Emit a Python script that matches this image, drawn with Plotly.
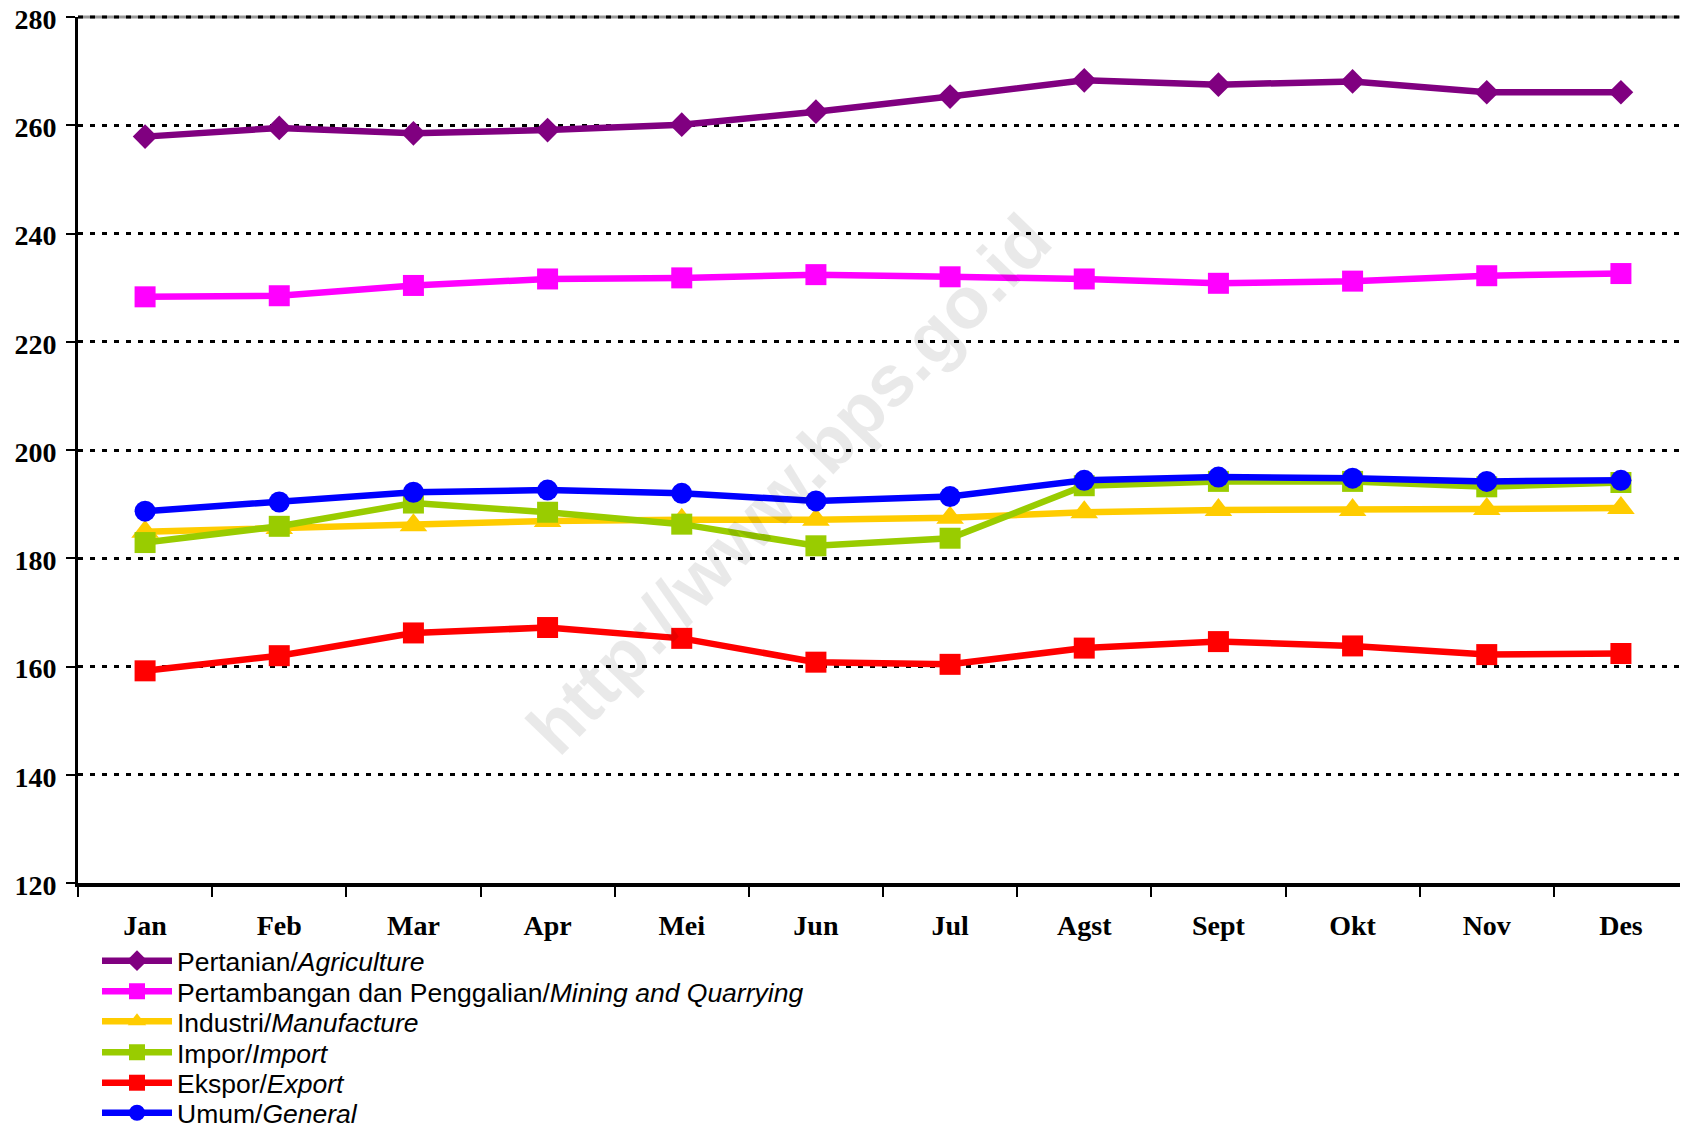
import plotly.graph_objects as go

months = ["Jan", "Feb", "Mar", "Apr", "Mei", "Jun", "Jul", "Agst", "Sept", "Okt", "Nov", "Des"]

agriculture = [257.9, 259.5, 258.5, 259.1, 260.1, 262.5, 265.3, 268.3, 267.5, 268.1, 266.1, 266.1]
mining = [228.3, 228.5, 230.4, 231.6, 231.8, 232.4, 232.0, 231.6, 230.8, 231.2, 232.2, 232.6]
industry = [184.9, 185.6, 186.1, 186.9, 187.1, 187.1, 187.5, 188.5, 188.9, 188.9, 189.1, 189.3]
imports = [182.9, 185.9, 190.2, 188.5, 186.3, 182.3, 183.7, 193.4, 194.2, 194.2, 193.2, 194.0]
exports = [159.2, 162.0, 166.2, 167.2, 165.2, 160.8, 160.4, 163.4, 164.6, 163.8, 162.2, 162.4]
general = [188.7, 190.4, 192.2, 192.6, 192.0, 190.6, 191.4, 194.4, 195.0, 194.8, 194.2, 194.4]

series_names = [
    "Pertanian/<i>Agriculture</i>",
    "Pertambangan dan Penggalian/<i>Mining and Quarrying</i>",
    "Industri/<i>Manufacture</i>",
    "Impor/<i>Import</i>",
    "Ekspor/<i>Export</i>",
    "Umum/<i>General</i>",
]
series_values = [agriculture, mining, industry, imports, exports, general]
colors = ["#800080", "#FF00FF", "#FFCC00", "#99CC00", "#FF0000", "#0000FF"]
symbols = ["diamond", "square", "triangle-up", "square", "square", "circle"]
sizes = [19, 21, 24, 21, 21, 21]

y_ticks = [120, 140, 160, 180, 200, 220, 240, 260, 280]

# page body has an 8px margin, so the figure is offset by 8px
OFF = 8
W, H = 1688 - OFF, 1126 - OFF
L, R, T, B = 78 - OFF, 0, 17 - OFF, 1126 - 883
PW, PH = W - L - R, H - T - B

fig = go.Figure()
legend_keys = ["legend", "legend2", "legend3", "legend4", "legend5", "legend6"]
for i, (name, vals, c, s, sz) in enumerate(zip(series_names, series_values, colors, symbols, sizes)):
    fig.add_trace(go.Scatter(
        x=months, y=vals, name=name, mode="lines+markers",
        line=dict(color=c, width=6.5),
        marker=dict(symbol=s, size=sz, color=c),
        legend=legend_keys[i],
    ))

legend_centers = [961, 991.5, 1021.5, 1052.5, 1083, 1113]
layout_legends = {}
for key, cy in zip(legend_keys, legend_centers):
    layout_legends[key] = dict(
        xref="container", yref="container",
        x=(97 - OFF) / W, y=1 - (cy - OFF) / H, xanchor="left", yanchor="middle",
        font=dict(family="Liberation Sans, Arial, sans-serif", size=26.5, color="black"),
        bgcolor="rgba(0,0,0,0)", borderwidth=0, itemwidth=70,
        itemsizing="trace",
    )

tick_font = dict(family="Liberation Serif, Times New Roman, serif", size=28, color="black", weight="bold")

wm_x, wm_y = 788 - OFF, 484 - OFF  # watermark centre in figure pixels

fig.update_layout(
    width=W, height=H,
    margin=dict(l=L, r=R, t=T, b=B, autoexpand=False),
    paper_bgcolor="white", plot_bgcolor="white",
    showlegend=True,
    xaxis=dict(
        type="category", range=[-0.5, 11.5], tickson="boundaries",
        ticks="outside", ticklen=10, tickwidth=2, tickcolor="black",
        showline=True, linecolor="black", linewidth=4,
        showgrid=False, tickfont=tick_font, ticklabelstandoff=14,
    ),
    yaxis=dict(
        range=[120, 280], tickvals=y_ticks, ticks="outside", ticklen=9,
        tickwidth=2, tickcolor="black",
        showline=True, linecolor="black", linewidth=3, mirror=True,
        showgrid=True, gridcolor="black", gridwidth=3, griddash="5px,7px",
        zeroline=False, tickfont=tick_font, ticklabelstandoff=4,
        ticklabeloverflow="allow", ticklabelshift=2,
    ),
    annotations=[dict(
        text="http://www.bps.go.id", xref="paper", yref="paper",
        x=(wm_x - L) / PW, y=(H - B - wm_y) / PH,
        showarrow=False, textangle=-46,
        font=dict(family="Liberation Sans, Arial, sans-serif", size=73,
                  color="rgba(0,0,0,0.085)", weight="bold"),
    )],
    shapes=[
        dict(type="line", xref="paper", yref="paper", x0=0, x1=1, y0=1, y1=1,
             line=dict(color="#999999", width=3), layer="below"),
        dict(type="line", xref="paper", yref="paper", x0=0, x1=1, y0=1, y1=1,
             line=dict(color="black", width=3, dash="5px,7px"), layer="below"),
    ],
    **layout_legends,
)

fig.write_html("out.html")
